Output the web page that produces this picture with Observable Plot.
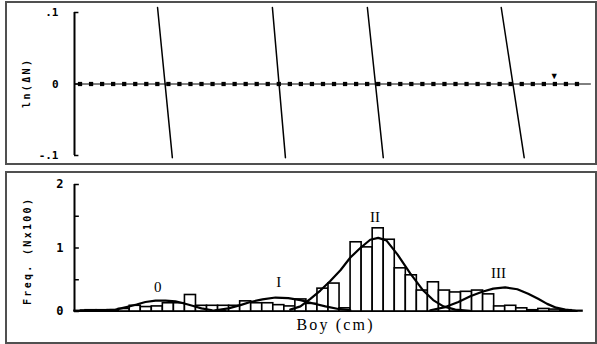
<!DOCTYPE html>
<html>
<head>
<meta charset="utf-8">
<script src="https://cdn.jsdelivr.net/npm/d3@7"></script>
<script src="https://cdn.jsdelivr.net/npm/@observablehq/plot@0.6"></script>
<style>
  html, body { margin: 0; padding: 0; background: #fff; width: 597px; height: 344px; overflow: hidden; }
  #top, #bottom { position: absolute; left: 0; }
  #top { top: 0; }
  #bottom { top: 165px; }
  .frame { position: absolute; box-sizing: border-box; border: 2px solid #505050; pointer-events: none; }
  svg { display: block; }
</style>
</head>
<body>
<div id="top"></div>
<div id="bottom"></div>
<div class="frame" style="left:5px;top:1px;width:592px;height:164px"></div>
<div class="frame" style="left:5px;top:171px;width:592px;height:173px"></div>
<script>
// ---- data ----
// length classes (cm), lower bounds, 0.5 cm wide
const classLower = d3.range(0, 23, 0.5);
const classMid = classLower.map(d => d + 0.25);
// observed frequency (N x 100) per class
const freq = [0.01,0.02,0.02,0.02,0.04,0.09,0.07,0.08,0.13,0.13,
              0.26,0.09,0.09,0.09,0.09,0.16,0.13,0.13,0.10,0.08,
              0.19,0.12,0.36,0.44,0.05,1.09,1.01,1.31,1.13,0.68,
              0.57,0.33,0.46,0.33,0.30,0.31,0.33,0.27,0.08,0.09,
              0.05,0.02,0.04,0.03,0.02,0.01];
// fitted cohort curves [length, freq]
const cohort0 = [[0.27,0.02],[1.18,0.02],[1.86,0.03],[2.35,0.07],[2.81,0.11],[3.21,0.15],[3.67,0.17],
                 [4.12,0.17],[4.57,0.16],[4.93,0.13],[5.34,0.09],[5.75,0.05],[6.24,0.02],[6.83,0.01]];
const cohortI = [[6.38,0.02],[6.97,0.05],[7.51,0.10],[7.96,0.15],[8.51,0.19],[9.10,0.22],[9.68,0.21],
                 [10.23,0.18],[10.77,0.13],[11.36,0.08],[11.95,0.04],[12.49,0.02]];
const cohortII = [[9.77,0.03],[10.23,0.08],[10.68,0.20],[11.13,0.33],[11.58,0.48],[12.04,0.65],[12.49,0.85],
                  [12.94,1.00],[13.39,1.13],[13.75,1.16],[14.12,1.12],[14.62,0.90],[15.20,0.60],[15.79,0.33],
                  [16.24,0.18],[16.70,0.08],[17.24,0.03],[17.90,0.01]];
const cohortIII = [[16.11,0.02],[16.79,0.07],[17.38,0.15],[17.92,0.24],[18.46,0.31],[18.96,0.36],[19.50,0.38],
                   [20.05,0.35],[20.54,0.28],[20.99,0.20],[21.40,0.12],[21.81,0.06],[22.22,0.03],[22.67,0.01]];
const cohortLabels = ["0", "I", "II", "III"];
const cohortLabelX = [3.77, 9.25, 13.6, 19.2];
const cohortLabelY = [0.38, 0.46, 1.48, 0.60];
// Bhattacharya regression lines: [x at top, x at bottom]
const regTop = [3.76, 8.96, 13.26, 19.32];
const regBottom = [4.43, 9.55, 13.98, 20.36];
const regYTop = 0.107, regYBottom = -0.103;
const selectedMarkX = 21.72;
const topTicks = [-0.1, 0, 0.1];
const topTickLabels = ["-.1", "0", ".1"];
const bottomTicks = [0, 0.5, 1, 1.5, 2];
const bottomLabelTicks = [0, 1, 2];
const topYLabel = "ln(\u0394N)";
const bottomYLabel = "Freq. (Nx100)";
const xLabel = "Boy (cm)";

const mono = "'DejaVu Sans Mono', monospace";
const serif = "'Liberation Serif', 'DejaVu Serif', serif";

function stretchText(svg, content, len) {
  d3.select(svg).selectAll("text").filter(function() { return this.textContent === content; })
    .attr("textLength", len).attr("lengthAdjust", "spacing");
}

// ---- top panel ----
const regLines = regTop.map((t, i) => [{x: t, y: regYTop}, {x: regBottom[i], y: regYBottom}]);
const topPlot = Plot.plot({
  width: 597, height: 165,
  marginLeft: 74, marginRight: 15, marginTop: 12, marginBottom: 10,
  x: {domain: [0, 23], axis: null},
  y: {domain: [-0.1, 0.1], axis: null},
  style: {background: "transparent", overflow: "visible"},
  marks: [
    Plot.ruleY([0], {x1: 0, x2: 23.4, stroke: "black", strokeWidth: 1}),
    Plot.dot(classMid, {x: d => d, y: 0, symbol: "square", r: 2.4, fill: "black", stroke: "none"}),
    Plot.text([0], {x: selectedMarkX, y: 0.0105, text: () => "\u25BC", fontSize: 9, fill: "black"}),
    ...regLines.map(l => Plot.line(l, {x: "x", y: "y", stroke: "black", strokeWidth: 1.5})),
    Plot.ruleX([0], {y1: -0.1, y2: 0.1, stroke: "black", strokeWidth: 2}),
    Plot.ruleY(topTicks, {y: d => d, x1: 0, x2: 0.2, stroke: "black", strokeWidth: 1.5}),
    Plot.text(topTicks, {x: 0, y: d => d, text: (d, i) => topTickLabels[i], textAnchor: "end", dx: -16,
      fontFamily: mono, fontWeight: "bold", fontSize: 11, fill: "black"}),
    Plot.text([topYLabel], {frameAnchor: "left", dx: -48, dy: 24, rotate: -90, textAnchor: "start", text: d => d,
      fontFamily: mono, fontWeight: "bold", fontSize: 10, fill: "black"})
  ]
});
stretchText(topPlot, topYLabel, 48);
document.getElementById("top").appendChild(topPlot);

// ---- bottom panel ----
const bins = classLower.map((lo, i) => ({lo, hi: lo + 0.5, f: freq[i]}));
const cohorts = [cohort0, cohortI, cohortII, cohortIII];
const botPlot = Plot.plot({
  width: 597, height: 179,
  marginLeft: 74, marginRight: 15, marginTop: 19, marginBottom: 33,
  x: {domain: [0, 23], axis: null},
  y: {domain: [0, 2], axis: null},
  style: {background: "transparent", overflow: "visible"},
  marks: [
    Plot.rectY(bins, {x1: "lo", x2: "hi", y: "f", fill: "white", stroke: "black", strokeWidth: 1.6}),
    ...cohorts.map(c => Plot.line(c, {x: d => d[0], y: d => d[1], stroke: "black", strokeWidth: 2.2})),
    Plot.ruleY([0], {x1: 0, x2: 22.8, stroke: "black", strokeWidth: 1.2}),
    Plot.ruleX([0], {y1: 0, y2: 2, stroke: "black", strokeWidth: 2}),
    Plot.ruleY(bottomTicks, {y: d => d, x1: 0, x2: 0.22, stroke: "black", strokeWidth: 1.5}),
    Plot.text(bottomLabelTicks, {x: 0, y: d => d, text: d => String(d), textAnchor: "end", dx: -11,
      fontFamily: mono, fontWeight: "bold", fontSize: 12, fill: "black"}),
    Plot.text(cohortLabels, {x: (d, i) => cohortLabelX[i], y: (d, i) => cohortLabelY[i], text: d => d,
      fontFamily: serif, fontSize: 15, fill: "black"}),
    Plot.text([xLabel], {frameAnchor: "bottom", dx: 6 - 38, dy: 18, textAnchor: "start", text: d => d,
      fontFamily: serif, fontSize: 16, fill: "black"}),
    Plot.text([bottomYLabel], {frameAnchor: "left", dx: -47, dy: 57, rotate: -90, textAnchor: "start", text: d => d,
      fontFamily: mono, fontWeight: "bold", fontSize: 10, fill: "black"})
  ]
});
stretchText(botPlot, bottomYLabel, 106);
stretchText(botPlot, xLabel, 76);
document.getElementById("bottom").appendChild(botPlot);
</script>
</body>
</html>
